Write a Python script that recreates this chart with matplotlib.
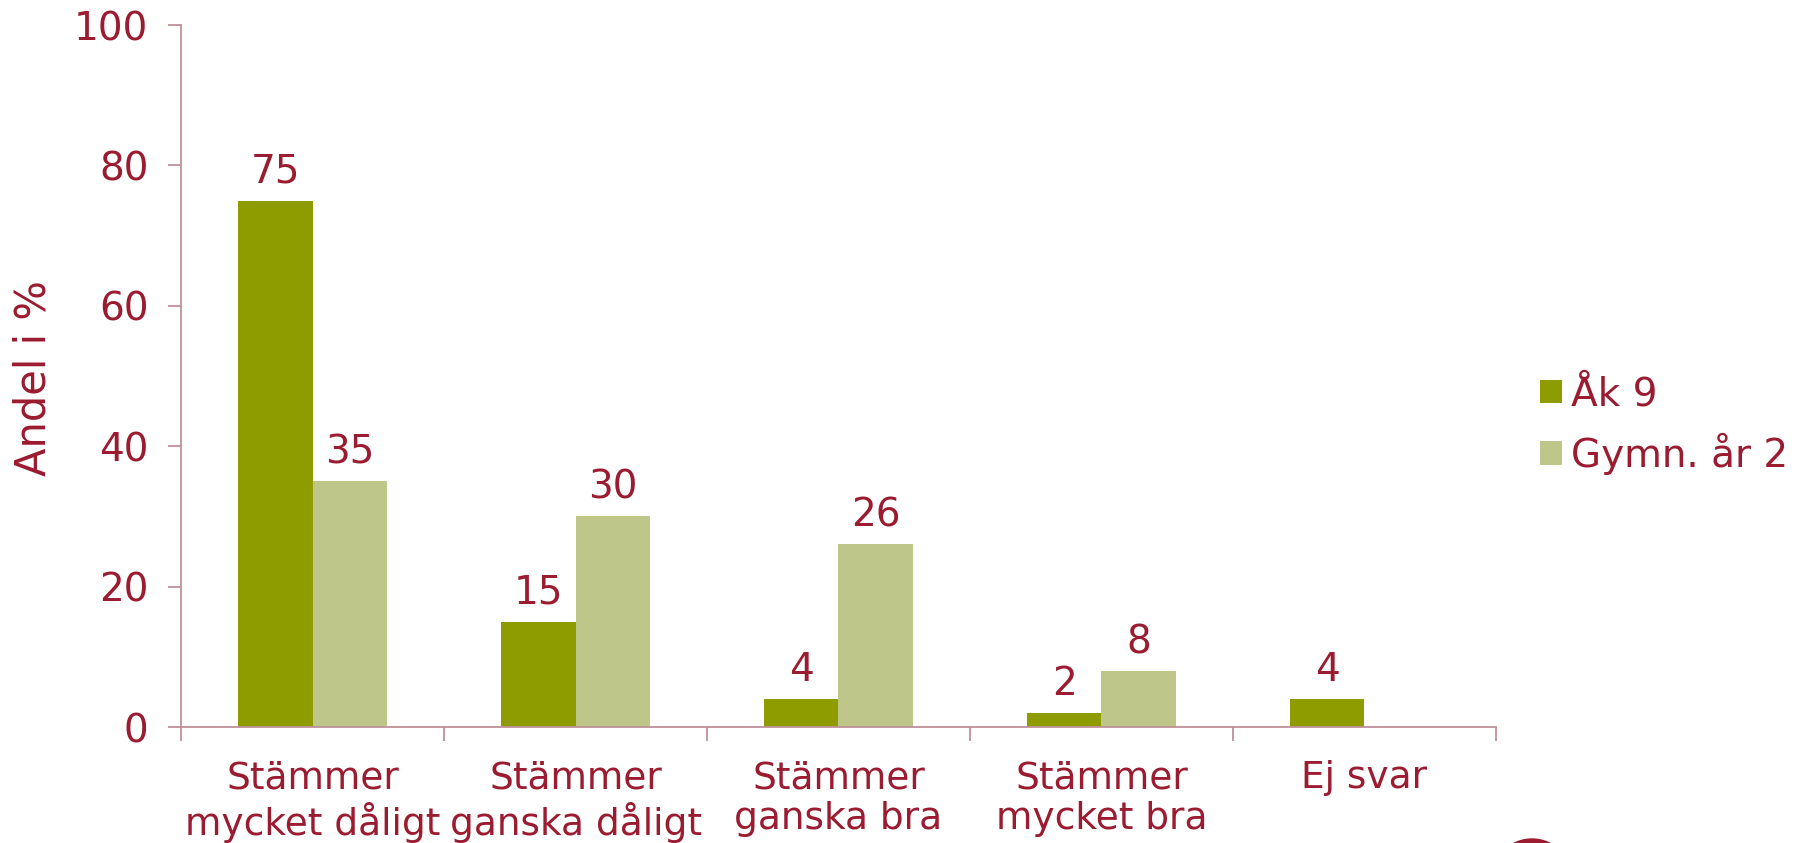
import matplotlib
matplotlib.use("Agg")
import matplotlib.pyplot as plt
import numpy as np
from matplotlib.patches import Ellipse

categories = ["Stämmer\nmycket dåligt", "Stämmer\nganska dåligt", "Stämmer\nganska bra",
              "Stämmer\nmycket bra", "Ej svar"]
ak9 = [75, 15, 4, 2, 4]
gymn = [35, 30, 26, 8, None]
series_names = ["Åk 9", "Gymn. år 2"]
yticks = [0, 20, 40, 60, 80, 100]

TEXT = "#9B1B30"
AXIS = "#C09098"
C1 = "#8F9C00"
C2 = "#BFC689"
FS = 28

plt.rcParams['font.family'] = ['DejaVu Sans']
fig = plt.figure(figsize=(17.98, 8.43), dpi=100)
ax = fig.add_axes([0.1007, 0.1376, 0.7313, 0.8327])

x = np.arange(len(categories))
w = 0.283
for vals, off, col, name in [(ak9, -w/2, C1, series_names[0]), (gymn, w/2, C2, series_names[1])]:
    xs = [xi + off for xi, v in zip(x, vals) if v is not None]
    vs = [v for v in vals if v is not None]
    ax.bar(xs, vs, width=w, color=col, label=name, zorder=2)
    for xi, v in zip(xs, vs):
        ax.annotate(f"{v}", (xi, v), xytext=(0, 7), textcoords="offset points",
                    ha="center", va="bottom", color=TEXT, fontsize=FS)

ax.set_xlim(-0.5, len(categories) - 0.5)
ax.set_ylim(0, 100)
ax.set_yticks(yticks)
ax.set_yticklabels([str(t) for t in yticks])
ax.set_xticks(x)
ax.set_xticklabels(categories, linespacing=1.17)
ax.set_xticks(np.arange(-0.5, len(categories)), minor=True)
ax.tick_params(axis='x', which='major', length=0, pad=24, labelsize=27, labelcolor=TEXT)
ax.tick_params(axis='x', which='minor', length=10, width=1.3, color=AXIS, direction='out')
ax.tick_params(axis='y', length=9.4, width=1.3, color=AXIS, labelsize=FS, labelcolor=TEXT, pad=14)
for s in ['top', 'right']:
    ax.spines[s].set_visible(False)
for s in ['left', 'bottom']:
    ax.spines[s].set_color(AXIS)
    ax.spines[s].set_linewidth(1.3)
fig.text(34/1798, 1 - 378/843, "Andel i %", color=TEXT, fontsize=30, rotation=90,
         ha="center", va="center")

leg = ax.legend(loc='center left', bbox_to_anchor=(1.013, 0.43), frameon=False,
                fontsize=FS, handlelength=0.55, handleheight=0.55, handletextpad=0.25,
                labelspacing=0.5, borderaxespad=0.3)
for t in leg.get_texts():
    t.set_color(TEXT)

fig.patches.append(Ellipse((1532/1798, -36/843), 80/1798, 80/843, transform=fig.transFigure,
                           color=TEXT, zorder=5))

fig.savefig("out.png", dpi=100)
